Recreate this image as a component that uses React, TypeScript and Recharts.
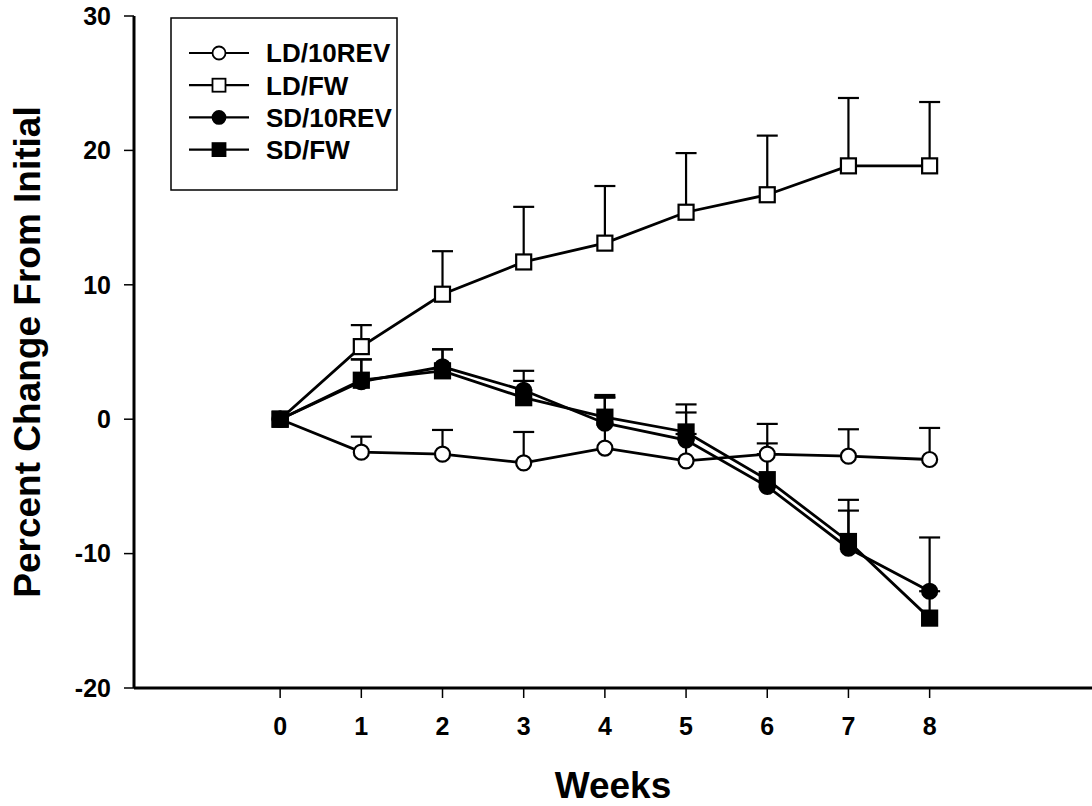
import React from 'react';
import { ComposedChart, Line, XAxis, YAxis, ErrorBar, Scatter, Legend } from 'recharts';

const FONT = '"Liberation Sans", Arial, Helvetica, sans-serif';

// ---- data ----
const weeks = [0, 1, 2, 3, 4, 5, 6, 7, 8];
const xTicks = [0, 1, 2, 3, 4, 5, 6, 7, 8];
const yTicks = [-20, -10, 0, 10, 20, 30];

const ldRev = [0, -2.45, -2.6, -3.25, -2.15, -3.1, -2.6, -2.75, -3.0];
const ldRevErr = [0, 1.15, 1.8, 2.3, 3.8, 2.0, 2.25, 2.0, 2.35];

const ldFw = [0, 5.4, 9.3, 11.7, 13.1, 15.4, 16.7, 18.85, 18.85];
const ldFwErr = [0, 1.6, 3.2, 4.1, 4.25, 4.4, 4.4, 5.05, 4.75];

const sdRev = [0, 2.8, 3.9, 2.15, -0.3, -1.55, -5.0, -9.6, -12.8];
const sdRevErr = [0, 1.65, 1.3, 1.45, 1.9, 2.05, 2.4, 2.8, 4.0];

const sdFw = [0, 2.9, 3.6, 1.6, 0.15, -0.95, -4.5, -9.1, -14.8];
const sdFwErr = [0, 1.55, 1.6, 1.25, 1.65, 2.05, 2.7, 3.1, 2.0];

const seriesNames = ['LD/10REV', 'LD/FW', 'SD/10REV', 'SD/FW'];

// ---- derived tables ----
const rows = weeks.map((w, i) => ({
  x: w,
  ldRev: ldRev[i],
  ldRevE: [0, ldRevErr[i]],
  ldFw: ldFw[i],
  ldFwE: [0, ldFwErr[i]],
  sdRev: sdRev[i],
  sdRevE: [0, sdRevErr[i]],
  sdFw: sdFw[i],
  sdFwE: [0, sdFwErr[i]],
}));

const caps = (vals: number[], errs: number[]) =>
  weeks
    .map((w, i) => ({ x: w, top: vals[i] + errs[i], e: errs[i] }))
    .filter((d) => d.e > 0);

const capsLdRev = caps(ldRev, ldRevErr);
const capsLdFw = caps(ldFw, ldFwErr);
const capsSdRev = caps(sdRev, sdRevErr);
const capsSdFw = caps(sdFw, sdFwErr);

// ---- shapes ----
const circleDot = (fill: string) => (props: any) => {
  const { cx, cy, index } = props;
  if (cx == null || cy == null) return <g key={'c' + index} />;
  return <circle key={'c' + index} cx={cx} cy={cy} r={7.5} fill={fill} stroke="#000" strokeWidth={2.2} />;
};

const squareDot = (fill: string) => (props: any) => {
  const { cx, cy, index } = props;
  if (cx == null || cy == null) return <g key={'s' + index} />;
  return (
    <rect key={'s' + index} x={cx - 7.5} y={cy - 7.5} width={15} height={15} fill={fill} stroke="#000" strokeWidth={2.2} />
  );
};

const CapShape = (props: any) => {
  const { cx, cy } = props;
  if (cx == null || cy == null) return <g />;
  return <line x1={cx - 10.5} x2={cx + 10.5} y1={cy} y2={cy} stroke="#000" strokeWidth={2.2} />;
};

const legendSymbols = ['openCircle', 'openSquare', 'filledCircle', 'filledSquare'];

const renderLegend = () => (
  <svg width={228} height={174} style={{ display: 'block' }}>
    <rect x={1} y={1} width={226} height={172} fill="#fff" stroke="#000" strokeWidth={1.5} />
    {seriesNames.map((name, i) => {
      const y = 36 + i * 32.2;
      const sym = legendSymbols[i];
      const fill = sym.startsWith('filled') ? '#000' : '#fff';
      return (
        <g key={name}>
          <line x1={19} x2={79} y1={y} y2={y} stroke="#000" strokeWidth={2.2} />
          {sym.endsWith('Circle') ? (
            <circle cx={49} cy={y} r={6.5} fill={fill} stroke="#000" strokeWidth={1.8} />
          ) : (
            <rect x={42.5} y={y - 6.5} width={13} height={13} fill={fill} stroke="#000" strokeWidth={1.8} />
          )}
          <text
            x={96}
            y={y}
            dy="0.36em"
            fontFamily={FONT}
            fontWeight="bold"
            fontSize={26}
            fill="#000"
          >
            {name}
          </text>
        </g>
      );
    })}
  </svg>
);

const YTitle = (props: any) => {
  const vb = props.viewBox || { x: 0, y: 0, width: 0, height: 0 };
  const cx = vb.x + 39.5;
  const cy = vb.y + vb.height / 2;
  return (
    <text
      x={cx}
      y={cy}
      transform={`rotate(-90, ${cx}, ${cy})`}
      textAnchor="middle"
      fontFamily={FONT}
      fontWeight="bold"
      fontSize={37}
      fill="#000"
    >
      Percent Change From Initial
    </text>
  );
};

const tickStyle = { fontSize: 25, fontWeight: 'bold', fill: '#000', fontFamily: FONT };

export default function App() {
  return (
    <div style={{ position: 'absolute', left: 0, top: 0, width: 1092, height: 806, background: '#fff' }}>
      <ComposedChart width={1092} height={806} data={rows} margin={{ top: 16, right: 0, bottom: 0, left: 0 }}>
        <XAxis
          dataKey="x"
          type="number"
          domain={[-1.8, 10]}
          allowDataOverflow
          ticks={xTicks}
          interval={0}
          height={118}
          tick={tickStyle}
          tickSize={10}
          tickMargin={19}
          axisLine={{ stroke: '#000', strokeWidth: 3 }}
          tickLine={{ stroke: '#000', strokeWidth: 1.5 }}
          label={{
            value: 'Weeks',
            position: 'insideBottom',
            offset: 8,
            style: { fontSize: 37, fontWeight: 'bold', fill: '#000', fontFamily: FONT },
          }}
        />
        <YAxis
          type="number"
          domain={[-20, 30]}
          allowDataOverflow
          ticks={yTicks}
          interval={0}
          width={134}
          tick={tickStyle}
          tickSize={10}
          tickMargin={13}
          axisLine={{ stroke: '#000', strokeWidth: 3 }}
          tickLine={{ stroke: '#000', strokeWidth: 1.5 }}
          label={{ content: YTitle }}
        />
        <Legend
          layout="vertical"
          align="center"
          verticalAlign="middle"
          content={renderLegend}
          wrapperStyle={{ position: 'absolute', left: 170, top: 17, width: 228, height: 174 }}
        />

        <Line
          dataKey="ldRev"
          name={seriesNames[0]}
          stroke="#000"
          strokeWidth={2.8}
          dot={circleDot('#fff')}
          activeDot={false}
          isAnimationActive={false}
          legendType="circle"
        >
          <ErrorBar dataKey="ldRevE" direction="y" width={0} stroke="#000" strokeWidth={2.2} isAnimationActive={false} />
        </Line>
        <Scatter data={capsLdRev} dataKey="top" shape={CapShape} isAnimationActive={false} legendType="none" />

        <Line
          dataKey="ldFw"
          name={seriesNames[1]}
          stroke="#000"
          strokeWidth={2.8}
          dot={squareDot('#fff')}
          activeDot={false}
          isAnimationActive={false}
          legendType="square"
        >
          <ErrorBar dataKey="ldFwE" direction="y" width={0} stroke="#000" strokeWidth={2.2} isAnimationActive={false} />
        </Line>
        <Scatter data={capsLdFw} dataKey="top" shape={CapShape} isAnimationActive={false} legendType="none" />

        <Line
          dataKey="sdRev"
          name={seriesNames[2]}
          stroke="#000"
          strokeWidth={2.8}
          dot={circleDot('#000')}
          activeDot={false}
          isAnimationActive={false}
          legendType="circle"
        >
          <ErrorBar dataKey="sdRevE" direction="y" width={0} stroke="#000" strokeWidth={2.2} isAnimationActive={false} />
        </Line>
        <Scatter data={capsSdRev} dataKey="top" shape={CapShape} isAnimationActive={false} legendType="none" />

        <Line
          dataKey="sdFw"
          name={seriesNames[3]}
          stroke="#000"
          strokeWidth={2.8}
          dot={squareDot('#000')}
          activeDot={false}
          isAnimationActive={false}
          legendType="square"
        >
          <ErrorBar dataKey="sdFwE" direction="y" width={0} stroke="#000" strokeWidth={2.2} isAnimationActive={false} />
        </Line>
        <Scatter data={capsSdFw} dataKey="top" shape={CapShape} isAnimationActive={false} legendType="none" />
      </ComposedChart>
    </div>
  );
}
